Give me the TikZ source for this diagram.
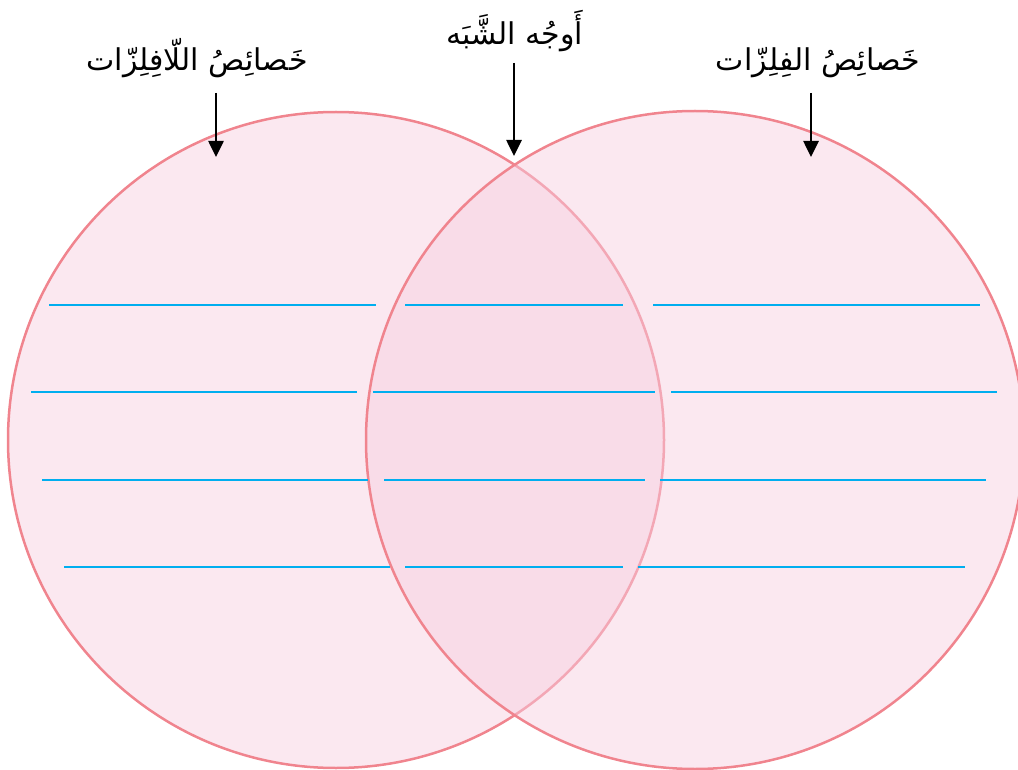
\documentclass[tikz,border=0pt]{standalone}
\usepackage{fontspec}
\TeXXeTstate=1
\newfontfamily\arabicfont[Script=Arabic]{DejaVu Sans}
\usetikzlibrary{arrows.meta}
\definecolor{circfill}{RGB}{247,207,224}
\definecolor{circline}{RGB}{240,132,142}
\definecolor{lineblue}{RGB}{0,174,239}
\tikzset{
  venn/.style={fill=circfill,fill opacity=0.48,draw=circline,draw opacity=1,line width=2.5pt},
  blueline/.style={draw=lineblue,line width=2.4pt},
  title/.style={font=\arabicfont\fontsize{30}{34}\selectfont,anchor=base,inner sep=0pt},
  pointer/.style={-{Triangle[length=16pt,width=15pt]},line width=2.6pt,black}
}
\begin{document}
\begin{tikzpicture}[x=1pt,y=-1pt]
\useasboundingbox (0,0) rectangle (1018,770);
\path[venn] (336,440) circle[radius=328pt];
\path[venn] (695,440) circle[radius=329pt];
% blue lines
\draw[blueline] (49,305) -- (376,305);
\draw[blueline] (31,392) -- (357,392);
\draw[blueline] (42,480) -- (368,480);
\draw[blueline] (64,567) -- (390,567);
\draw[blueline] (405,305) -- (623,305);
\draw[blueline] (373,392) -- (655,392);
\draw[blueline] (384,480) -- (645,480);
\draw[blueline] (405,567) -- (623,567);
\draw[blueline] (653,305) -- (980,305);
\draw[blueline] (671,392) -- (997,392);
\draw[blueline] (660,480) -- (986,480);
\draw[blueline] (638,567) -- (965,567);
% titles
\node[title] (tleft) at (197,71) {\beginR خَصائِصُ اللّافِلِزّات\endR};
\node[title] (tmid) at (515,45) {\beginR أَوجُه الشَّبَه\endR};
\node[title] (tright) at (818,71) {\beginR خَصائِصُ الفِلِزّات\endR};
% arrows
\coordinate (aLs) at (216,93);
\coordinate (aLe) at (216,157);
\coordinate (aMs) at (514,63);
\coordinate (aMe) at (514,156);
\coordinate (aRs) at (811,93);
\coordinate (aRe) at (811,157);
\draw[pointer] (aLs) -- (aLe);
\draw[pointer] (aMs) -- (aMe);
\draw[pointer] (aRs) -- (aRe);
\end{tikzpicture}
\end{document}
